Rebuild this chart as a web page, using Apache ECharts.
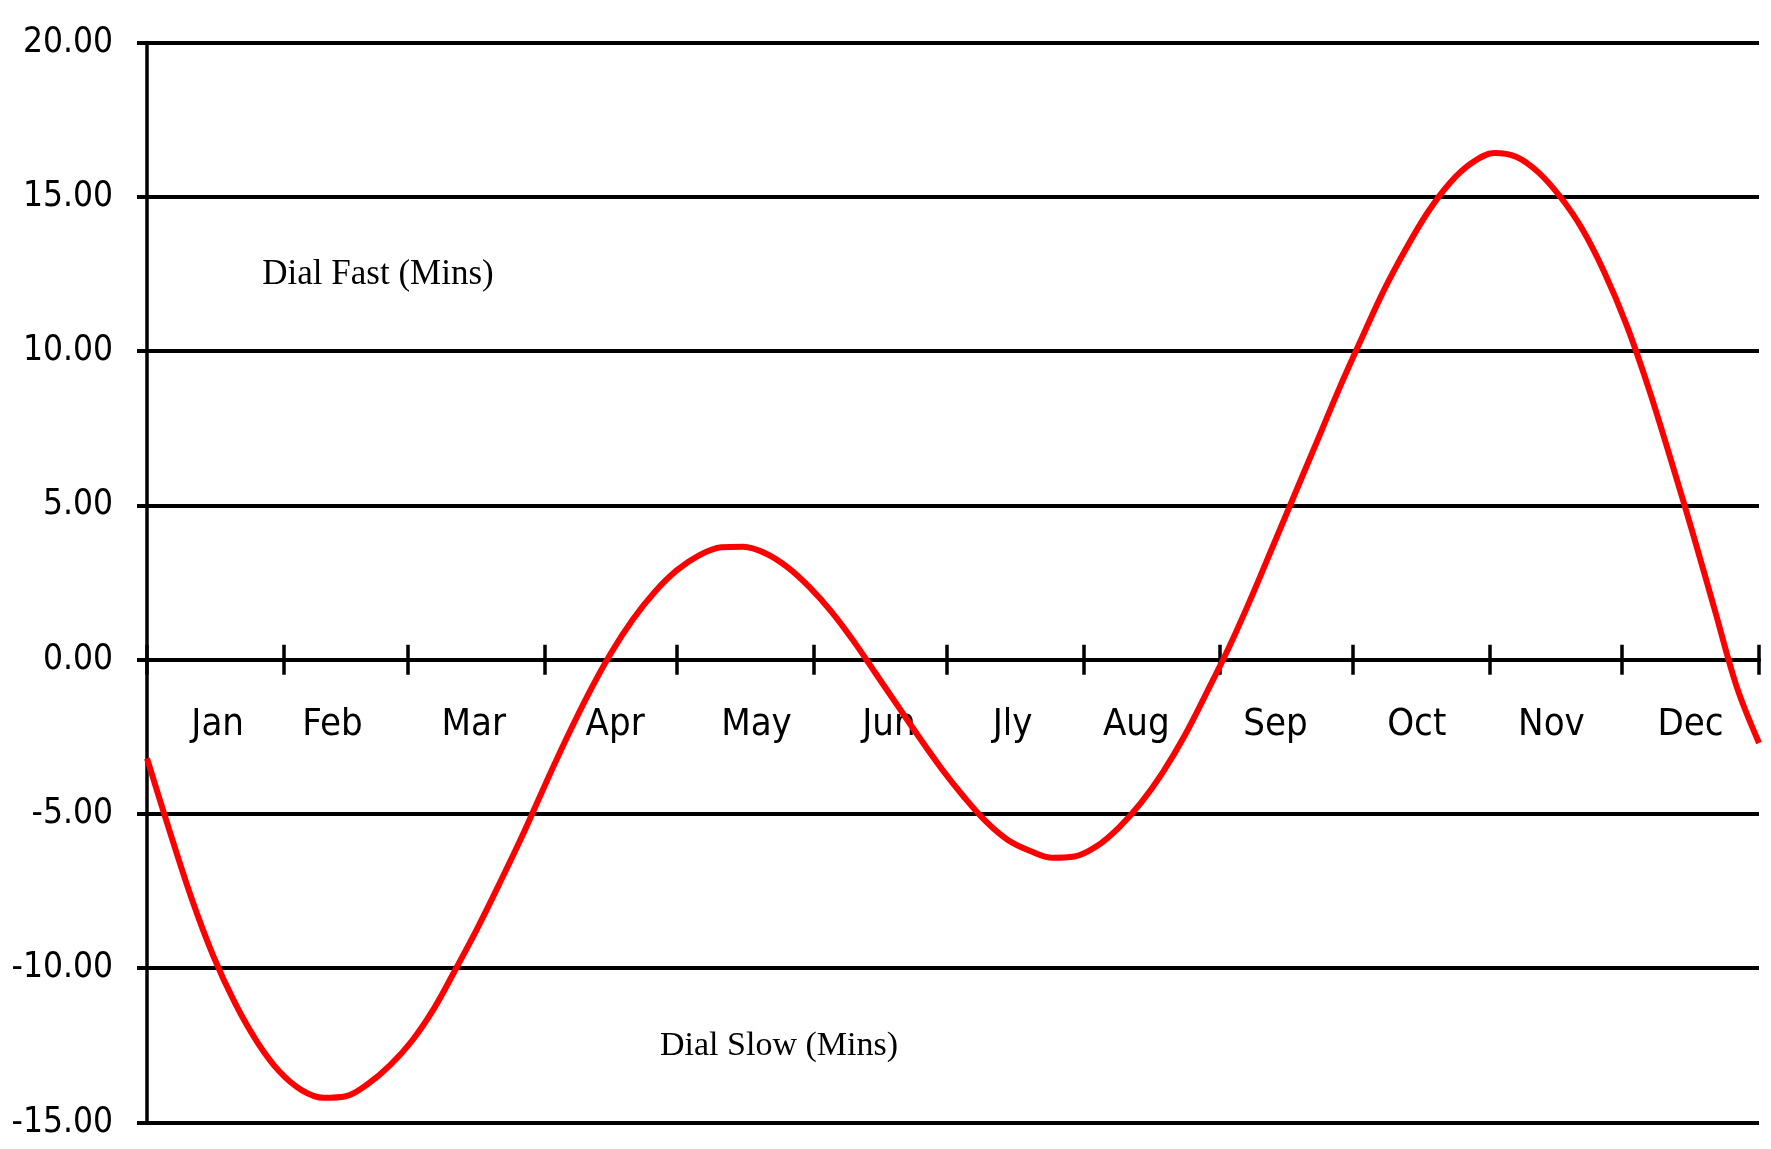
<!DOCTYPE html>
<html>
<head>
<meta charset="utf-8">
<script src="https://cdn.jsdelivr.net/npm/echarts@6/dist/echarts.min.js"></script>
<style>
html, body { margin: 0; padding: 0; background: #ffffff; }
#chart { width: 1771px; height: 1149px; }
</style>
</head>
<body>
<div id="chart"></div>
<script>
// Day of year (Jan 1 = 0) and sundial correction in minutes (positive = dial fast)
const days = [0, 5, 10, 15, 20, 25, 30, 35, 40, 45, 50, 55, 60, 65, 70, 75, 80, 85, 90, 95,
  100, 105, 110, 115, 120, 125, 130, 135, 140, 145, 150, 155, 160, 165, 170, 175, 180, 185, 190, 195,
  200, 205, 210, 215, 220, 225, 230, 235, 240, 245, 250, 255, 260, 265, 270, 275, 280, 285, 290, 295,
  300, 305, 310, 315, 320, 325, 330, 335, 340, 345, 350, 355, 360, 365];
const minutes = [-3.2, -5.5, -7.7, -9.6, -11.15, -12.4, -13.35, -13.95, -14.2, -14.15, -13.75, -13.15, -12.35, -11.3, -10.0, -8.65, -7.2, -5.7, -4.1, -2.55,
  -1.1, 0.2, 1.3, 2.2, 2.9, 3.38, 3.64, 3.66, 3.45, 3.0, 2.35, 1.55, 0.6, -0.45, -1.5, -2.55, -3.55, -4.45, -5.25, -5.85,
  -6.2, -6.42, -6.38, -6.05, -5.45, -4.65, -3.65, -2.45, -1.05, 0.4, 2.0, 3.7, 5.4, 7.1, 8.8, 10.4, 11.95, 13.3, 14.5, 15.45,
  16.1, 16.42, 16.3, 15.8, 15.0, 13.95, 12.55, 10.85, 8.8, 6.5, 4.1, 1.6, -0.9, -2.7];
const monthNames = ['Jan', 'Feb', 'Mar', 'Apr', 'May', 'Jun', 'Jly', 'Aug', 'Sep', 'Oct', 'Nov', 'Dec'];
const monthStarts = [0, 31, 59, 90, 120, 151, 181, 212, 243, 273, 304, 334, 365];
const monthLabelDays = [16, 42, 74, 106, 138, 168, 196, 224, 255.5, 287.5, 318, 349.5];
const yTicks = [-15, -10, -5, 0, 5, 10, 15, 20];
const notes = ['Dial Fast (Mins)', 'Dial Slow (Mins)'];

const seriesData = days.map((d, i) => [d, minutes[i]]);

function monthFor(v) {
  let best = -1, bestD = Infinity;
  monthLabelDays.forEach((m, i) => { const d = Math.abs(m - Number(v)); if (d < bestD) { bestD = d; best = i; } });
  return bestD < 1 ? monthNames[best] : '';
}

const sansFont = "'DejaVu Sans Condensed', 'Liberation Sans Narrow', sans-serif";
const serifFont = "'Liberation Serif', 'DejaVu Serif', serif";
const black = '#000000';

const chart = echarts.init(document.getElementById('chart'), null, { renderer: 'canvas' });
chart.setOption({
  backgroundColor: '#ffffff',
  animation: false,
  grid: { left: 147, right: 12, top: 42.5, bottom: 26.5, outerBoundsMode: 'none', containLabel: false },
  xAxis: [
    {
      // zero line with downward half of the "+" ticks
      type: 'value', min: 0, max: 365, position: 'bottom',
      axisLine: { show: true, onZero: true, onZeroAxisIndex: 0, lineStyle: { color: black, width: 4 } },
      axisTick: { show: true, inside: false, length: 15, customValues: monthStarts, lineStyle: { color: black, width: 3.5 } },
      axisLabel: { show: false },
      splitLine: { show: false }
    },
    {
      // upward half of the "+" ticks
      type: 'value', min: 0, max: 365, position: 'top',
      axisLine: { show: true, onZero: true, onZeroAxisIndex: 0, lineStyle: { color: black, width: 4 } },
      axisTick: { show: true, inside: false, length: 15, customValues: monthStarts, lineStyle: { color: black, width: 3.5 } },
      axisLabel: { show: false },
      splitLine: { show: false }
    },
    {
      // month names just below the zero line
      type: 'value', min: 0, max: 365, position: 'bottom',
      axisLine: { show: false, onZero: false },
      axisTick: { show: false },
      axisLabel: {
        show: true, customValues: monthLabelDays, margin: -416,
        fontFamily: sansFont, fontSize: 38, color: black,
        formatter: function (v) { return monthFor(v); }
      },
      splitLine: { show: false }
    }
  ],
  yAxis: {
    type: 'value', min: yTicks[0], max: yTicks[yTicks.length - 1], interval: 5,
    axisLine: { show: true, onZero: false, lineStyle: { color: black, width: 3.5 } },
    axisTick: { show: true, length: 10, lineStyle: { color: black, width: 4 } },
    axisLabel: {
      margin: 34, fontFamily: sansFont, fontSize: 35, color: black,
      padding: [0, 0, 14, 0],
      formatter: function (v) { return v.toFixed(2); }
    },
    splitLine: { show: true, lineStyle: { color: black, width: 4 } }
  },
  graphic: [
    { type: 'text', x: 378, y: 275, style: { text: notes[0], font: "35px " + serifFont, fill: black, align: 'center', verticalAlign: 'middle' } },
    { type: 'text', x: 779, y: 1046, style: { text: notes[1], font: "34px " + serifFont, fill: black, align: 'center', verticalAlign: 'middle' } }
  ],
  series: [{
    type: 'line', xAxisIndex: 0, data: seriesData, showSymbol: false, smooth: 0.35,
    lineStyle: { color: '#ff0000', width: 6 }, z: 5
  }]
});
</script>
</body>
</html>
